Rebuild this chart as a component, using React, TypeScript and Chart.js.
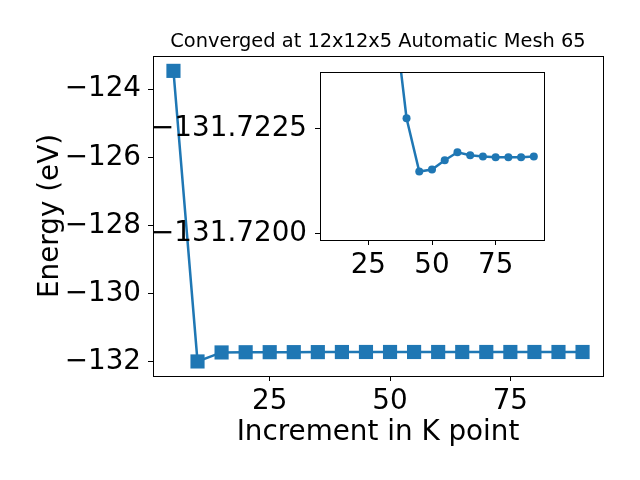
import React, { useEffect, useRef } from "react";
import { Chart, registerables } from "chart.js";

Chart.register(...registerables);

// ---- data ----
const kPoints = [5, 10, 15, 20, 25, 30, 35, 40, 45, 50, 55, 60, 65, 70, 75, 80, 85, 90];
const energies = [
  -123.46, -132.0, -131.735, -131.729, -131.727, -131.726, -131.7253, -131.72274,
  -131.72147, -131.72152, -131.72174, -131.72193, -131.72186, -131.72183, -131.72181,
  -131.72181, -131.72181, -131.72183,
];
const insetStartIndex = 1; // inset shows the points from K = 10 onward
const mainXTicks = [25, 50, 75];
const mainYTicks = [-132, -130, -128, -126, -124];
const insetXTicks = [25, 50, 75];
const insetYTicks = [-131.7225, -131.72];
const titleText = "Converged at 12x12x5 Automatic Mesh 65";
const xLabel = "Increment in K point";
const yLabel = "Energy (eV)";

const BLUE = "#1f77b4";
const FONT = "'DejaVu Sans', 'Liberation Sans', sans-serif";

const fmt = (v: number, d: number) => (v < 0 ? "\u2212" : "") + Math.abs(v).toFixed(d);

const framePlugin = {
  id: "frame",
  beforeDatasetsDraw(chart: any, _a: any, opts: any) {
    if (opts && opts.fill) {
      const { left, top, width, height } = chart.chartArea;
      const ctx = chart.ctx;
      ctx.save();
      ctx.fillStyle = "#ffffff";
      ctx.fillRect(left, top, width, height);
      ctx.restore();
    }
  },
  afterDraw(chart: any) {
    const { left, top, width, height } = chart.chartArea;
    const ctx = chart.ctx;
    ctx.save();
    ctx.strokeStyle = "#000";
    ctx.lineWidth = 1;
    ctx.strokeRect(Math.round(left) + 0.5, Math.round(top) + 0.5, Math.round(width), Math.round(height));
    ctx.restore();
  },
};

const gridOpts = {
  display: true,
  drawOnChartArea: false,
  drawTicks: true,
  tickLength: 5,
  color: "#000",
  lineWidth: 1,
};

export default function App() {
  const mainRef = useRef<HTMLCanvasElement>(null);
  const insetRef = useRef<HTMLCanvasElement>(null);

  useEffect(() => {
    const pts = kPoints.map((x, i) => ({ x, y: energies[i] }));
    const insetPts = pts.slice(insetStartIndex);

    const main = new Chart(mainRef.current!, {
      type: "line",
      data: {
        datasets: [
          {
            data: pts,
            borderColor: BLUE,
            backgroundColor: BLUE,
            borderWidth: 2.5,
            pointStyle: "rect",
            pointRadius: 10,
            pointBorderWidth: 0,
            pointBackgroundColor: BLUE,
            tension: 0,
          },
        ],
      },
      options: {
        animation: false,
        responsive: false,
        devicePixelRatio: 1,
        layout: { padding: { left: 0, right: 37, top: 0, bottom: 0 } },
        plugins: {
          legend: { display: false },
          tooltip: { enabled: false },
          title: {
            display: true,
            text: titleText,
            fullSize: false,
            color: "#000",
            font: { family: FONT, size: 19.4, weight: "normal", lineHeight: 1.2 },
            padding: { top: 30, bottom: 2.7 },
          },
          frame: { fill: false },
        } as any,
        scales: {
          x: {
            type: "linear",
            min: 0.75,
            max: 94.25,
            afterFit: (s: any) => { s.height = 104; },
            afterBuildTicks: (s: any) => { s.ticks = mainXTicks.map((v) => ({ value: v })); },
            ticks: {
              color: "#000",
              padding: 4,
              maxRotation: 0,
              font: { family: FONT, size: 27.8 },
              callback: (v: any) => fmt(Number(v), 0),
            },
            grid: gridOpts,
            border: { display: false },
            title: {
              display: true,
              text: xLabel,
              color: "#000",
              font: { family: FONT, size: 27.8, lineHeight: 1.2 },
              padding: { top: 0, bottom: 31 },
            },
          },
          y: {
            type: "linear",
            min: -132.4275,
            max: -123.0225,
            afterFit: (s: any) => { s.width = 153; },
            afterBuildTicks: (s: any) => { s.ticks = mainYTicks.map((v) => ({ value: v })); },
            ticks: {
              color: "#000",
              padding: 7,
              font: { family: FONT, size: 27.8 },
              callback: (v: any) => fmt(Number(v), 0),
            },
            grid: gridOpts,
            border: { display: false },
            title: {
              display: true,
              text: yLabel,
              color: "#000",
              font: { family: FONT, size: 27.8, lineHeight: 1.2 },
              padding: { top: 34, bottom: 0 },
            },
          },
        },
      } as any,
      plugins: [framePlugin],
    });

    const inset = new Chart(insetRef.current!, {
      type: "line",
      data: {
        datasets: [
          {
            data: insetPts,
            borderColor: BLUE,
            backgroundColor: BLUE,
            borderWidth: 2.5,
            pointStyle: "circle",
            pointRadius: 4,
            pointBorderWidth: 0,
            pointBackgroundColor: BLUE,
            tension: 0,
          },
        ],
      },
      options: {
        animation: false,
        responsive: false,
        devicePixelRatio: 1,
        layout: { padding: { left: 0, right: 96, top: 72, bottom: 0 } },
        plugins: {
          legend: { display: false },
          tooltip: { enabled: false },
          title: { display: false },
          frame: { fill: true },
        } as any,
        scales: {
          x: {
            type: "linear",
            min: 6,
            max: 94,
            afterFit: (s: any) => { s.height = 240; },
            afterBuildTicks: (s: any) => { s.ticks = insetXTicks.map((v) => ({ value: v })); },
            ticks: {
              color: "#000",
              padding: 4,
              maxRotation: 0,
              font: { family: FONT, size: 27.8 },
              callback: (v: any) => fmt(Number(v), 0),
            },
            grid: gridOpts,
            border: { display: false },
          },
          y: {
            type: "linear",
            reverse: true,
            min: -131.72384,
            max: -131.71984,
            afterFit: (s: any) => { s.width = 320; },
            afterBuildTicks: (s: any) => { s.ticks = insetYTicks.map((v) => ({ value: v })); },
            ticks: {
              color: "#000",
              padding: 8,
              font: { family: FONT, size: 27.8 },
              callback: (v: any) => fmt(Number(v), 4),
            },
            grid: gridOpts,
            border: { display: false },
          },
        },
      } as any,
      plugins: [framePlugin],
    });

    return () => {
      main.destroy();
      inset.destroy();
    };
  }, []);

  return (
    <div style={{ position: "absolute", left: 0, top: 0, width: 640, height: 480, background: "#fff" }}>
      <canvas ref={mainRef} width={640} height={480} style={{ position: "absolute", left: 0, top: 0 }} />
      <canvas ref={insetRef} width={640} height={480} style={{ position: "absolute", left: 0, top: 0 }} />
    </div>
  );
}
